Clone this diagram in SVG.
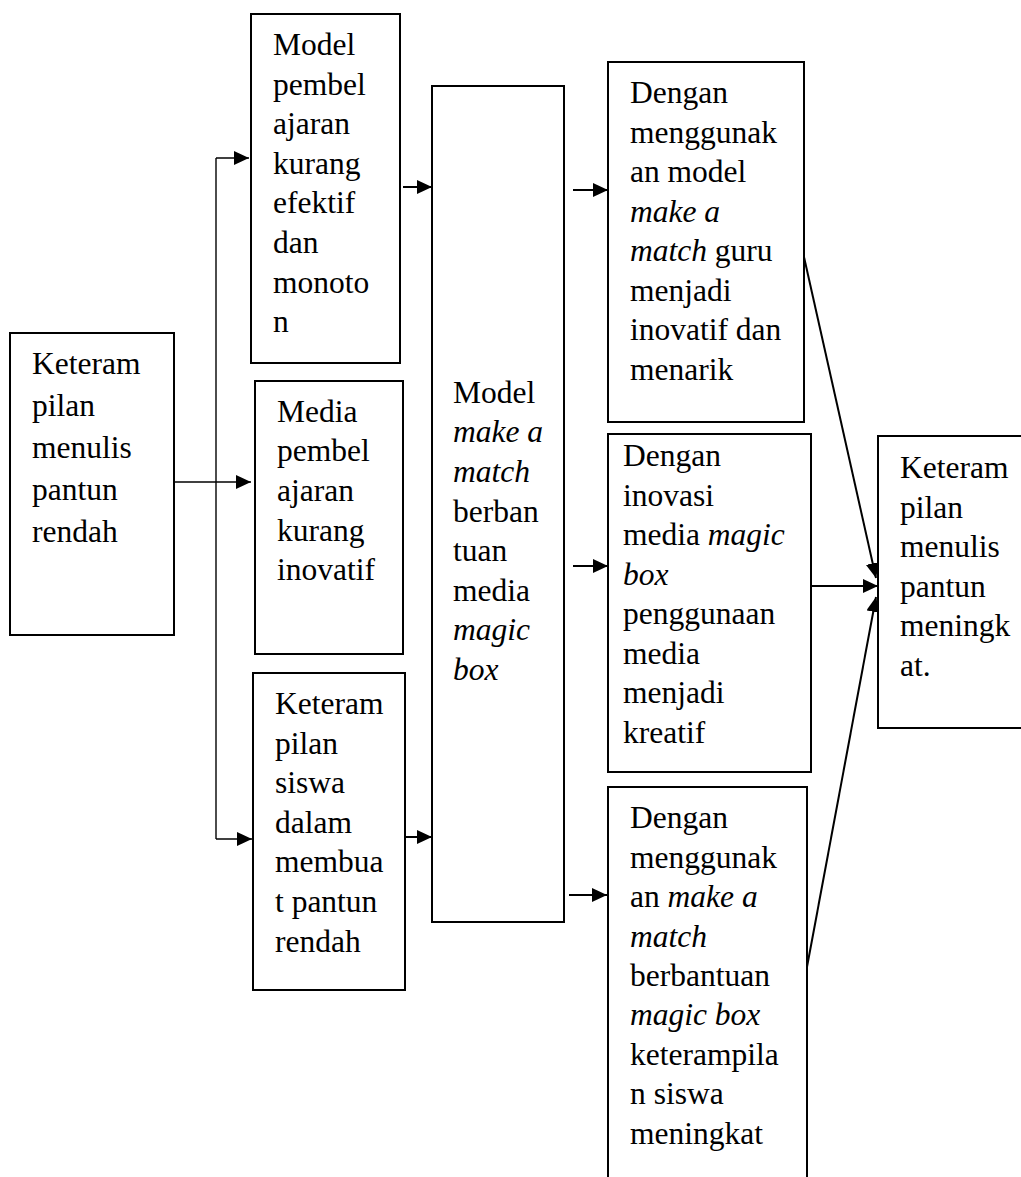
<svg xmlns="http://www.w3.org/2000/svg" width="1021" height="1177" viewBox="0 0 1021 1177">
<style>
.box{fill:#fff;stroke:#000;stroke-width:2}
.t{font-family:"Liberation Serif","Times New Roman",serif;font-size:31.5px;fill:#000}
.i{font-style:italic}
.c{fill:none;stroke:#000;stroke-width:2}
.thin{fill:none;stroke:#000;stroke-width:1.4}
</style>
<defs>
<marker id="ah" markerUnits="userSpaceOnUse" markerWidth="15" markerHeight="14" refX="15" refY="7" orient="auto">
<path d="M0,0 L15,7 L0,14 z" fill="#000"/>
</marker>
</defs>
<rect width="1021" height="1177" fill="#fff"/>

<g id="connectors">
<path class="thin" d="M216,158 V839"/>
<path class="thin" d="M216,158 H249" marker-end="url(#ah)"/>
<path class="thin" d="M171,482 H251" marker-end="url(#ah)"/>
<path class="thin" d="M216,839 H252" marker-end="url(#ah)"/>
<path class="c" d="M403,187 H432" marker-end="url(#ah)"/>
<path class="c" d="M405,837 H432" marker-end="url(#ah)"/>
<path class="c" d="M573,190 H608" marker-end="url(#ah)"/>
<path class="c" d="M573,566 H608" marker-end="url(#ah)"/>
<path class="c" d="M569,895 H607" marker-end="url(#ah)"/>
<path class="c" d="M804,257 L876,578" marker-end="url(#ah)"/>
<path class="c" d="M811,586 H878" marker-end="url(#ah)"/>
<path class="c" d="M807,967 L876,597" marker-end="url(#ah)"/>
</g>

<g id="node-a">
<rect class="box" x="10" y="333" width="164" height="302"/>
<text class="t" x="32" y="374">Keteram</text>
<text class="t" x="32" y="416">pilan</text>
<text class="t" x="32" y="458">menulis</text>
<text class="t" x="32" y="500">pantun</text>
<text class="t" x="32" y="542">rendah</text>
</g>

<g id="node-b">
<rect class="box" x="251" y="14" width="149" height="349"/>
<text class="t" x="273" y="55">Model</text>
<text class="t" x="273" y="94.6">pembel</text>
<text class="t" x="273" y="134.2">ajaran</text>
<text class="t" x="273" y="173.8">kurang</text>
<text class="t" x="273" y="213.4">efektif</text>
<text class="t" x="273" y="253">dan</text>
<text class="t" x="273" y="292.6">monoto</text>
<text class="t" x="273" y="332.2">n</text>
</g>

<g id="node-f">
<rect class="box" x="255" y="381" width="148" height="273"/>
<text class="t" x="277" y="421.7">Media</text>
<text class="t" x="277" y="461.3">pembel</text>
<text class="t" x="277" y="500.9">ajaran</text>
<text class="t" x="277" y="540.5">kurang</text>
<text class="t" x="277" y="580.1">inovatif</text>
</g>

<g id="node-g">
<rect class="box" x="253" y="673" width="152" height="317"/>
<text class="t" x="275" y="714">Keteram</text>
<text class="t" x="275" y="753.6">pilan</text>
<text class="t" x="275" y="793.2">siswa</text>
<text class="t" x="275" y="832.8">dalam</text>
<text class="t" x="275" y="872.4">membua</text>
<text class="t" x="275" y="912">t pantun</text>
<text class="t" x="275" y="951.6">rendah</text>
</g>

<g id="node-c">
<rect class="box" x="432" y="86" width="132" height="836"/>
<text class="t" x="453" y="402.7">Model</text>
<text class="t i" x="453" y="442.3">make a</text>
<text class="t i" x="453" y="481.9">match</text>
<text class="t" x="453" y="521.5">berban</text>
<text class="t" x="453" y="561.1">tuan</text>
<text class="t" x="453" y="600.7">media</text>
<text class="t i" x="453" y="640.3">magic</text>
<text class="t i" x="453" y="679.9">box</text>
</g>

<g id="node-d">
<rect class="box" x="608" y="62" width="196" height="360"/>
<text class="t" x="630" y="103.3">Dengan</text>
<text class="t" x="630" y="142.8">menggunak</text>
<text class="t" x="630" y="182.3">an model</text>
<text class="t i" x="630" y="221.8">make a</text>
<text class="t" x="630" y="261.3"><tspan class="i">match</tspan> guru</text>
<text class="t" x="630" y="300.8">menjadi</text>
<text class="t" x="630" y="340.3">inovatif dan</text>
<text class="t" x="630" y="379.8">menarik</text>
</g>

<g id="node-i">
<rect class="box" x="608" y="434" width="203" height="338"/>
<text class="t" x="623" y="466">Dengan</text>
<text class="t" x="623" y="505.5">inovasi</text>
<text class="t" x="623" y="545">media <tspan class="i">magic</tspan></text>
<text class="t i" x="623" y="584.5">box</text>
<text class="t" x="623" y="624">penggunaan</text>
<text class="t" x="623" y="663.5">media</text>
<text class="t" x="623" y="703">menjadi</text>
<text class="t" x="623" y="742.5">kreatif</text>
</g>

<g id="node-h">
<rect class="box" x="608" y="787" width="199" height="420"/>
<text class="t" x="630" y="828.3">Dengan</text>
<text class="t" x="630" y="867.7">menggunak</text>
<text class="t" x="630" y="907.1">an <tspan class="i">make a</tspan></text>
<text class="t i" x="630" y="946.5">match</text>
<text class="t" x="630" y="985.9">berbantuan</text>
<text class="t i" x="630" y="1025.3">magic box</text>
<text class="t" x="630" y="1064.7">keterampila</text>
<text class="t" x="630" y="1104.1">n siswa</text>
<text class="t" x="630" y="1143.5">meningkat</text>
</g>

<g id="node-e">
<rect class="box" x="878" y="436" width="160" height="292"/>
<text class="t" x="900" y="478">Keteram</text>
<text class="t" x="900" y="517.6">pilan</text>
<text class="t" x="900" y="557.2">menulis</text>
<text class="t" x="900" y="596.8">pantun</text>
<text class="t" x="900" y="636.4">meningk</text>
<text class="t" x="900" y="676">at.</text>
</g>
</svg>
